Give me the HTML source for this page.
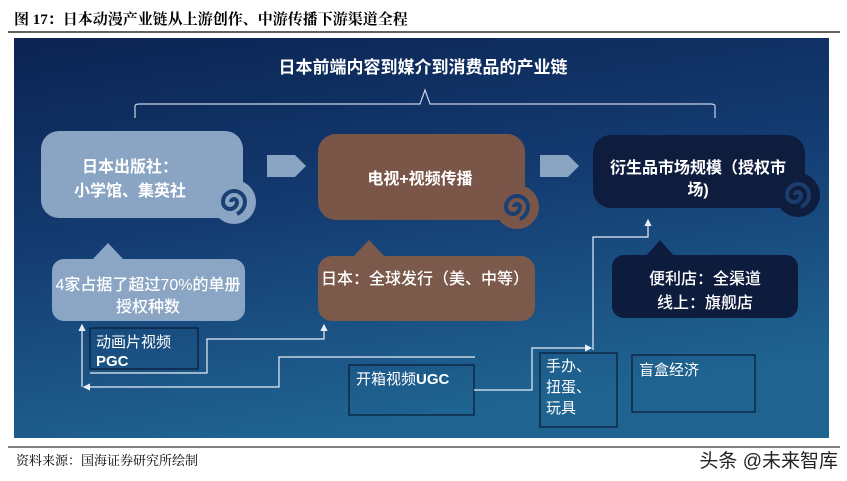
<!DOCTYPE html>
<html><head><meta charset="utf-8"><style>
body{margin:0;width:847px;height:481px;background:#fff;overflow:hidden}
svg{display:block}
text{font-family:"Liberation Sans","Noto Sans CJK SC",sans-serif}
</style></head><body>
<svg width="847" height="481" viewBox="0 0 847 481" xmlns="http://www.w3.org/2000/svg">
<defs>
<linearGradient id="bg" x1="0" y1="0" x2="0.3" y2="1">
<stop offset="0" stop-color="#0b2352"/><stop offset="0.5" stop-color="#143c72"/><stop offset="1" stop-color="#1f6390"/>
</linearGradient>
<marker id="ar" markerWidth="6" markerHeight="6" refX="5" refY="3" orient="auto"><path d="M0,0 L6,3 L0,6z" fill="#e8eef5"/></marker>
</defs>
<text x="14" y="24" font-size="15" font-weight="bold" fill="#000" style="font-family:'Liberation Serif','Noto Serif CJK SC',serif">图 17：日本动漫产业链从上游创作、中游传播下游渠道全程</text>
<line x1="8" y1="32" x2="840" y2="32" stroke="#000" stroke-width="1.2"/>
<rect x="14" y="38" width="815" height="400" fill="url(#bg)"/>
<text x="423" y="73" font-size="17" font-weight="bold" fill="#fff" text-anchor="middle">日本前端内容到媒介到消费品的产业链</text>
<path d="M135,118 V106 Q135,104 140,104 H420 L425,90 L430,104 H710 Q715,104 715,106 V118" fill="none" stroke="#c9d6e6" stroke-width="1.2"/>
<g fill="#8aa4c4">
<rect x="41" y="131" width="202" height="87" rx="18"/>
<circle cx="234" cy="202" r="22"/>
</g>
<path d="M234,202 m-3,0 a3,3 0 1 1 6,0 a7,7 0 1 1 -14,0 a11,11 0 1 1 22,0 a14,14 0 0 1 -8,12" fill="none" stroke="#1a3f72" stroke-width="4"/>
<text x="130" y="172" font-size="16" font-weight="bold" fill="#fff" text-anchor="middle">日本出版社：</text>
<text x="130" y="196" font-size="16" font-weight="bold" fill="#fff" text-anchor="middle">小学馆、集英社</text>
<path d="M267,155 H295 L306,166 L295,177 H267z" fill="#8aa4c4"/>
<g fill="#7a5649">
<rect x="318" y="134" width="207" height="86" rx="18"/>
<circle cx="517" cy="207" r="22"/>
</g>
<path d="M517,207 m-3,0 a3,3 0 1 1 6,0 a7,7 0 1 1 -14,0 a11,11 0 1 1 22,0 a14,14 0 0 1 -8,12" fill="none" stroke="#1a3f72" stroke-width="4"/>
<text x="420" y="184" font-size="16" font-weight="bold" fill="#fff" text-anchor="middle">电视+视频传播</text>
<path d="M540,155 H568 L579,166 L568,177 H540z" fill="#8aa4c4"/>
<g fill="#0e1d3e">
<rect x="593" y="135" width="212" height="73" rx="18"/>
<circle cx="798" cy="195" r="22"/>
</g>
<path d="M798,195 m-3,0 a3,3 0 1 1 6,0 a7,7 0 1 1 -14,0 a11,11 0 1 1 22,0 a14,14 0 0 1 -8,12" fill="none" stroke="#1d3c6e" stroke-width="4"/>
<text x="698" y="173" font-size="16" font-weight="bold" fill="#fff" text-anchor="middle">衍生品市场规模（授权市</text>
<text x="698" y="195" font-size="16" font-weight="bold" fill="#fff" text-anchor="middle">场)</text>
<path d="M92,260 L108,243 L124,260z" fill="#8aa6c4"/>
<rect x="52" y="259" width="193" height="62" rx="12" fill="#8aa6c4"/>
<text x="148" y="290" font-size="16" fill="#fff" text-anchor="middle" font-weight="500">4家占据了超过70%的单册</text>
<text x="148" y="312" font-size="16" fill="#fff" text-anchor="middle" font-weight="500">授权种数</text>
<path d="M352,258 L369,240 L386,258z" fill="#7b5a4c"/>
<rect x="318" y="256" width="217" height="65" rx="14" fill="#7b5a4c"/>
<text x="321" y="284" font-size="16" fill="#fff" font-weight="500">日本：全球发行（美、中等）</text>
<path d="M645,257 L660,240 L675,257z" fill="#0d1c3c"/>
<rect x="612" y="255" width="186" height="63" rx="12" fill="#0d1c3c"/>
<text x="705" y="284" font-size="16" fill="#fff" text-anchor="middle" font-weight="500">便利店：全渠道</text>
<text x="705" y="308" font-size="16" fill="#fff" text-anchor="middle" font-weight="500">线上：旗舰店</text>
<g fill="none" stroke="#0a1a36" stroke-width="1.2">
<rect x="90" y="328" width="108" height="41"/>
<rect x="349" y="365" width="125" height="50"/>
<rect x="540" y="353" width="77" height="74"/>
<rect x="632" y="355" width="123" height="57"/>
</g>
<g style="font-family:'Liberation Serif','Noto Serif CJK SC',serif" fill="#fff" font-size="15">
<text x="96" y="347">动画片视频</text>
<text x="96" y="366" font-weight="bold" style="font-family:'Liberation Sans',sans-serif" font-size="15">PGC</text>
<text x="356" y="384">开箱视频<tspan font-weight="bold" style="font-family:'Liberation Sans',sans-serif">UGC</tspan></text>
<text x="546" y="371">手办、</text>
<text x="546" y="392">扭蛋、</text>
<text x="546" y="413">玩具</text>
<text x="639" y="375">盲盒经济</text>
</g>
<g fill="none" stroke="#e8eef5" stroke-width="1.2">
<path d="M90,373 H207 V339 H324 V325" marker-end="url(#ar)"/>
<path d="M475,357 H279 V387 H84" marker-end="url(#ar)"/>
<path d="M82,387 V325" marker-end="url(#ar)"/>
<path d="M474,390 H532 V348 H591" marker-end="url(#ar)"/>
<path d="M593,350 V237 H648 V220" marker-end="url(#ar)"/>
</g>
<line x1="8" y1="447" x2="840" y2="447" stroke="#000" stroke-width="1"/>
<text x="16" y="465" font-size="13" fill="#000" style="font-family:'Liberation Serif','Noto Serif CJK SC',serif">资料来源：国海证券研究所绘制</text>
<text x="838" y="467" font-size="19" fill="#222" text-anchor="end">头条 @未来智库</text>
</svg>
</body></html>
